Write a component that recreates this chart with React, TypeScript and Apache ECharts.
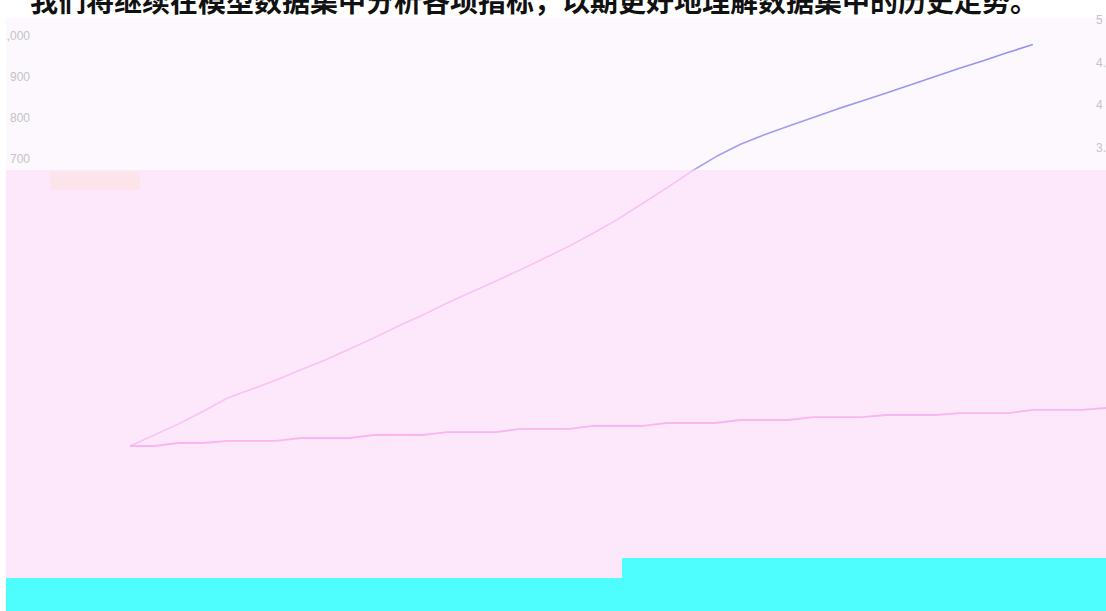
import React, { useEffect, useRef } from "react";
import * as echarts from "echarts";

const titleText = "我们将继续在模型数据集中分析各项指标，以期更好地理解数据集中的历史走势。";

const years: string[] = [
  "1980","1981","1982","1983","1984","1985","1986","1987","1988","1989",
  "1990","1991","1992","1993","1994","1995","1996","1997","1998","1999",
  "2000","2001","2002","2003","2004","2005","2006","2007","2008","2009",
  "2010","2011","2012","2013","2014","2015","2016","2017","2018","2019","2020",
];

const seriesA: (number | null)[] = [
  0, 27, 54, 85, 117, 139, 161, 186, 210, 237,
  264, 293, 320, 349, 376, 403, 430, 459, 488, 520,
  554, 592, 630, 670, 706, 736, 760, 781, 802, 823,
  842, 862, 882, 902, 922, 941, 961, 980, null, null, null,
];

const seriesB: number[] = [
  0, 0, 0.035, 0.035, 0.059, 0.059, 0.059, 0.094, 0.094, 0.094,
  0.129, 0.129, 0.129, 0.164, 0.164, 0.164, 0.2, 0.2, 0.2, 0.235,
  0.235, 0.235, 0.27, 0.27, 0.27, 0.305, 0.305, 0.305, 0.34, 0.34,
  0.34, 0.364, 0.364, 0.364, 0.387, 0.387, 0.387, 0.423, 0.423, 0.423, 0.446,
];

export default function App() {
  const ref = useRef<HTMLDivElement>(null);
  useEffect(() => {
    if (!ref.current) return;
    const chart = echarts.init(ref.current, null, { renderer: "svg" });
    chart.setOption({
      animation: false,
      backgroundColor: "transparent",
      title: {
        text: titleText,
        left: 25,
        top: -19,
        textStyle: {
          fontSize: 28,
          fontWeight: "bold",
          color: "#111",
          fontFamily: "Noto Sans CJK SC",
        },
      },
      grid: { left: 130, right: 0, top: 20, bottom: 165, outerBoundsMode: "none", containLabel: false },
      xAxis: {
        type: "category",
        data: years,
        boundaryGap: false,
        axisLine: { show: false },
        axisTick: { show: false },
        axisLabel: { show: false },
        splitLine: { show: false },
      },
      yAxis: [
        {
          type: "value",
          position: "left",
          min: 0,
          max: 1040,
          interval: 100,
          offset: 92,
          axisLine: { show: false },
          axisTick: { show: false },
          splitLine: { show: false },
          axisLabel: {
            showMaxLabel: false,
            margin: 8,
            color: "#c4c4c4",
            fontSize: 12,
            formatter: (v: number) => (v >= 700 && v <= 1000 ? v.toLocaleString("en-US") : ""),
          },
        },
        {
          type: "value",
          position: "right",
          min: 0,
          max: 5,
          interval: 0.5,
          offset: -11,
          axisLine: { show: false },
          axisTick: { show: false },
          splitLine: { show: false },
          axisLabel: {
            margin: 1,
            color: "#c4c4c4",
            fontSize: 12,
            formatter: (v: number) => (v >= 3.5 ? String(v) : ""),
          },
        },
      ],
      series: [
        {
          name: "A",
          type: "line",
          yAxisIndex: 0,
          data: seriesA,
          showSymbol: false,
          smooth: false,
          lineStyle: {
            width: 1.6,
            color: {
              type: "linear",
              x: 0,
              y: 0,
              x2: 0,
              y2: 611,
              global: true,
              colorStops: [
                { offset: 0, color: "#8c8cf2" },
                { offset: 0.275, color: "#a8a0f0" },
                { offset: 0.28, color: "#f8c2f2" },
                { offset: 1, color: "#f8c2f2" },
              ],
            },
          },
        },
        {
          name: "B",
          type: "line",
          yAxisIndex: 1,
          data: seriesB,
          showSymbol: false,
          lineStyle: { width: 1.8, color: "#f9b6ef" },
        },
      ],
    });
    return () => chart.dispose();
  }, []);

  return (
    <div style={{ position: "fixed", left: 0, top: 0, width: 1106, height: 611, overflow: "hidden", background: "#ffffff" }}>
      <div style={{ position: "absolute", left: 6, top: 18, width: 1100, height: 152, background: "#fcf8fd" }} />
      <div style={{ position: "absolute", left: 6, top: 170, width: 1100, height: 408, background: "#fde8fb" }} />
      <div style={{ position: "absolute", left: 50, top: 172, width: 90, height: 18, background: "#fde4ea" }} />
      <div style={{ position: "absolute", left: 6, top: 578, width: 1100, height: 33, background: "#4efdfd" }} />
      <div style={{ position: "absolute", left: 622, top: 558, width: 484, height: 20, background: "#4efdfd" }} />
      <div ref={ref} style={{ position: "absolute", left: 0, top: 0, width: 1106, height: 611 }} />
      <div style={{ position: "absolute", left: 0, top: 18, width: 6, height: 593, background: "#ffffff" }} />
    </div>
  );
}
